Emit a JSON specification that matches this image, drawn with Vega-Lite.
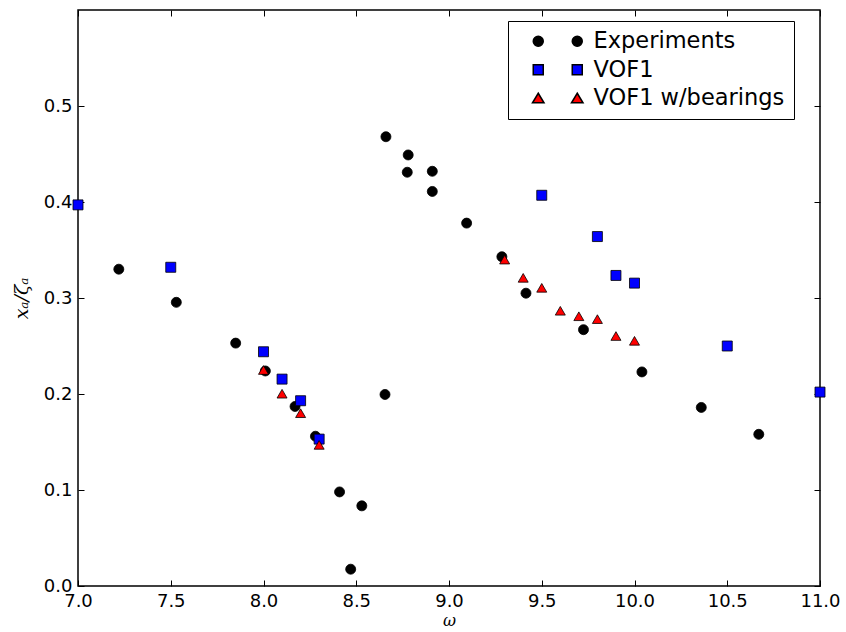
{
  "$schema": "https://vega.github.io/schema/vega-lite/v6.json",
  "autosize": {"type": "none"},
  "width": 742,
  "height": 576,
  "padding": {"left": 78, "top": 10, "right": 26, "bottom": 46},
  "background": "white",
  "config": {
    "view": {"stroke": "black", "strokeWidth": 1.5},
    "font": "DejaVu Sans",
    "axis": {"grid": false, "domain": false, "tickColor": "black", "labelColor": "black", "labelFont": "DejaVu Sans", "labelFontSize": 18, "tickSize": -6, "tickWidth": 1}
  },
  "data": {"values": [
    {"omega": 7.22, "xa": 0.330, "series": "Experiments"},
    {"omega": 7.53, "xa": 0.2955, "series": "Experiments"},
    {"omega": 7.85, "xa": 0.253, "series": "Experiments"},
    {"omega": 8.01, "xa": 0.224, "series": "Experiments"},
    {"omega": 8.17, "xa": 0.187, "series": "Experiments"},
    {"omega": 8.28, "xa": 0.156, "series": "Experiments"},
    {"omega": 8.41, "xa": 0.098, "series": "Experiments"},
    {"omega": 8.47, "xa": 0.0175, "series": "Experiments"},
    {"omega": 8.53, "xa": 0.0835, "series": "Experiments"},
    {"omega": 8.655, "xa": 0.1995, "series": "Experiments"},
    {"omega": 8.66, "xa": 0.468, "series": "Experiments"},
    {"omega": 8.775, "xa": 0.431, "series": "Experiments"},
    {"omega": 8.78, "xa": 0.449, "series": "Experiments"},
    {"omega": 8.91, "xa": 0.432, "series": "Experiments"},
    {"omega": 8.91, "xa": 0.411, "series": "Experiments"},
    {"omega": 9.095, "xa": 0.378, "series": "Experiments"},
    {"omega": 9.285, "xa": 0.343, "series": "Experiments"},
    {"omega": 9.415, "xa": 0.305, "series": "Experiments"},
    {"omega": 9.725, "xa": 0.267, "series": "Experiments"},
    {"omega": 10.04, "xa": 0.223, "series": "Experiments"},
    {"omega": 10.36, "xa": 0.186, "series": "Experiments"},
    {"omega": 10.67, "xa": 0.158, "series": "Experiments"},
    {"omega": 7.0, "xa": 0.397, "series": "VOF1"},
    {"omega": 7.5, "xa": 0.332, "series": "VOF1"},
    {"omega": 8.0, "xa": 0.244, "series": "VOF1"},
    {"omega": 8.1, "xa": 0.2155, "series": "VOF1"},
    {"omega": 8.2, "xa": 0.193, "series": "VOF1"},
    {"omega": 8.3, "xa": 0.153, "series": "VOF1"},
    {"omega": 9.5, "xa": 0.407, "series": "VOF1"},
    {"omega": 9.8, "xa": 0.364, "series": "VOF1"},
    {"omega": 9.9, "xa": 0.3235, "series": "VOF1"},
    {"omega": 10.0, "xa": 0.3155, "series": "VOF1"},
    {"omega": 10.5, "xa": 0.250, "series": "VOF1"},
    {"omega": 11.0, "xa": 0.202, "series": "VOF1"},
    {"omega": 8.0, "xa": 0.225, "series": "VOF1 w/bearings"},
    {"omega": 8.1, "xa": 0.2003, "series": "VOF1 w/bearings"},
    {"omega": 8.2, "xa": 0.180, "series": "VOF1 w/bearings"},
    {"omega": 8.3, "xa": 0.147, "series": "VOF1 w/bearings"},
    {"omega": 9.3, "xa": 0.340, "series": "VOF1 w/bearings"},
    {"omega": 9.4, "xa": 0.321, "series": "VOF1 w/bearings"},
    {"omega": 9.5, "xa": 0.3106, "series": "VOF1 w/bearings"},
    {"omega": 9.6, "xa": 0.2867, "series": "VOF1 w/bearings"},
    {"omega": 9.7, "xa": 0.281, "series": "VOF1 w/bearings"},
    {"omega": 9.8, "xa": 0.278, "series": "VOF1 w/bearings"},
    {"omega": 9.9, "xa": 0.2604, "series": "VOF1 w/bearings"},
    {"omega": 10.0, "xa": 0.2554, "series": "VOF1 w/bearings"}
  ]},
  "layer": [
    {
      "mark": {"type": "point", "filled": true, "stroke": "black", "strokeWidth": 0.8, "opacity": 1, "size": 100},
      "encoding": {
        "x": {"field": "omega", "type": "quantitative", "scale": {"domain": [7, 11], "nice": false, "zero": false},
          "axis": {"orient": "bottom", "values": [7, 7.5, 8, 8.5, 9, 9.5, 10, 10.5, 11], "format": ".1f", "labelPadding": 12, "title": "ω", "titleFont": "DejaVu Serif", "titleFontStyle": "italic", "titleFontWeight": "normal", "titleFontSize": 16, "titlePadding": 2, "labelFlush": false}},
        "y": {"field": "xa", "type": "quantitative", "scale": {"domain": [0, 0.6], "nice": false},
          "axis": {"orient": "left", "values": [0, 0.1, 0.2, 0.3, 0.4, 0.5], "format": ".1f", "labelPadding": 12, "title": "xₐ/ζₐ", "titleFont": "DejaVu Serif", "titleFontStyle": "italic", "titleFontWeight": "normal", "titleFontSize": 19, "titlePadding": 12, "labelFlush": false}},
        "color": {"field": "series", "type": "nominal",
          "scale": {"domain": ["Experiments", "VOF1", "VOF1 w/bearings"], "range": ["#000000", "#0000ff", "#ff0000"]},
          "legend": null},
        "shape": {"field": "series", "type": "nominal",
          "scale": {"domain": ["Experiments", "VOF1", "VOF1 w/bearings"], "range": ["circle", "square", "triangle-up"]},
          "legend": null}
      }
    },
    {
      "transform": [{"filter": "datum.xa > 5"}],
      "mark": {"type": "point", "filled": true, "stroke": "black", "strokeWidth": 0.8, "opacity": 1, "size": 100},
      "encoding": {
        "x": {"field": "omega", "type": "quantitative", "axis": {"orient": "top", "values": [7, 7.5, 8, 8.5, 9, 9.5, 10, 10.5, 11], "labels": false, "title": null}},
        "y": {"field": "xa", "type": "quantitative", "axis": {"orient": "right", "values": [0, 0.1, 0.2, 0.3, 0.4, 0.5], "labels": false, "title": null}},
        "color": {"field": "series", "type": "nominal",
          "scale": {"domain": ["Experiments", "VOF1", "VOF1 w/bearings"], "range": ["#000000", "#0000ff", "#ff0000"]},
          "legend": {"title": null, "orient": "none", "legendX": 430, "legendY": 11, "labelFontSize": 22.5, "labelColor": "black", "labelLimit": 500, "symbolSize": 100, "symbolOffset": 49, "padding": 9, "rowPadding": 5.5, "labelOffset": 5, "strokeColor": "black", "fillColor": "white", "cornerRadius": 0,
            "encode": {"legend": {"update": {"strokeWidth": {"value": 1.2}}}}}},
        "shape": {"field": "series", "type": "nominal",
          "scale": {"domain": ["Experiments", "VOF1", "VOF1 w/bearings"], "range": [
            "M-8.8,0A1,1 0 1,0 -6.8,0A1,1 0 1,0 -8.8,0Z M-1,0A1,1 0 1,0 1,0A1,1 0 1,0 -1,0Z",
            "M-8.8,-1H-6.8V1H-8.8Z M-1,-1H1V1H-1Z",
            "M-7.8,-1L-6.65,0.9L-8.95,0.9Z M0,-1L1.15,0.9L-1.15,0.9Z"]},
          "legend": {"title": null, "orient": "none", "legendX": 430, "legendY": 11, "labelFontSize": 22.5, "labelColor": "black", "labelLimit": 500, "symbolSize": 100, "symbolOffset": 49, "padding": 9, "rowPadding": 5.5, "labelOffset": 5, "strokeColor": "black", "fillColor": "white", "cornerRadius": 0}}
      }
    }
  ],
  "resolve": {"axis": {"x": "independent", "y": "independent"}, "scale": {"shape": "independent"}, "legend": {"shape": "independent", "color": "independent"}}
}
